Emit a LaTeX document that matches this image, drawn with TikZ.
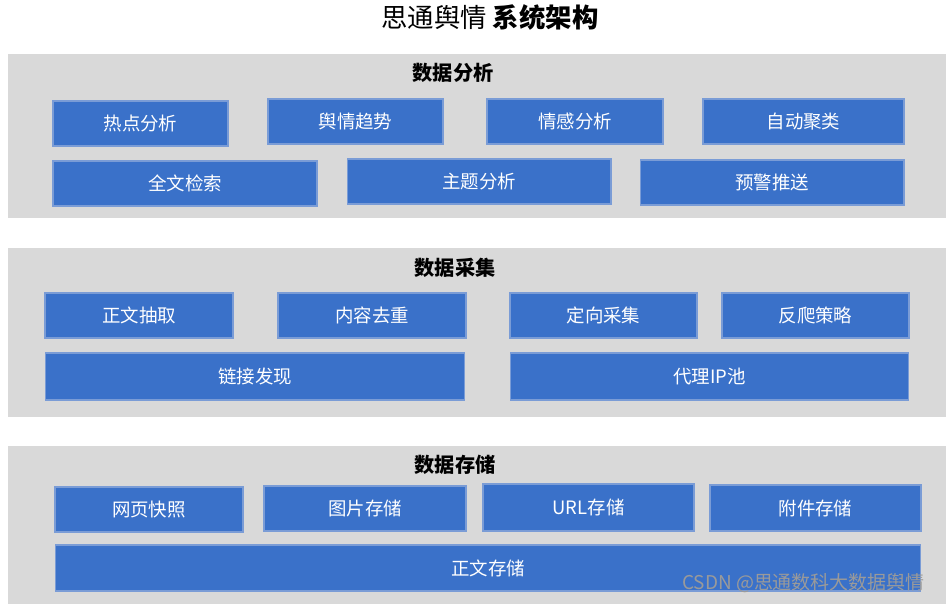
\documentclass[tikz,border=0pt]{standalone}
\usepackage{fontspec}
\usepackage{xcolor}
\newfontfamily\cjk{Noto Sans CJK SC}
\definecolor{panelgray}{HTML}{D9D9D9}
\definecolor{boxblue}{HTML}{3A71C9}
\definecolor{boxedge}{HTML}{7A9CD6}
\definecolor{markgray}{HTML}{9A9A9A}

\begin{document}
\begin{tikzpicture}[x=0.02cm, y=-0.02cm,
    panel/.style={rectangle, fill=panelgray, inner sep=0pt, minimum width=18.76cm},
    box/.style={rectangle, draw=boxedge, line width=0.6pt, fill=boxblue, text=white, inner sep=0pt, minimum height=0.9cm, font=\cjk\fontsize{10.5}{12}\selectfont},
    head/.style={font=\cjk\bfseries\fontsize{11.5}{13}\selectfont, text=black}]
          \useasboundingbox (0,0) rectangle (948,604);

          % Title
          \node[font=\cjk\fontsize{15}{17}\selectfont] (title) at (490,17) {思通舆情 \textbf{系统架构}};

          % Define panels
          \node[panel, minimum height=3.28cm] (analysis) at (477,136) {};
          \node[panel, minimum height=3.38cm] (collect) at (477,332.5) {};
          \node[panel, minimum height=3.16cm] (storage) at (477,525) {};

          \node[head] (analysisT) at (453,73) {数据分析};
          \node[head] (collectT) at (455,268) {数据采集};
          \node[head] (storageT) at (455,465) {数据存储};

          % Data analysis boxes
          \node[box, minimum width=3.50cm] (hot) at (140.5,123.5) {热点分析};
          \node[box, minimum width=3.50cm] (trend) at (355.5,121.5) {舆情趋势};
          \node[box, minimum width=3.52cm] (emotion) at (575,121.5) {情感分析};
          \node[box, minimum width=4.02cm] (cluster) at (803.5,121.5) {自动聚类};
          \node[box, minimum width=5.28cm] (search) at (185,183.5) {全文检索};
          \node[box, minimum width=5.28cm] (topic) at (479,181.5) {主题分析};
          \node[box, minimum width=5.28cm] (alert) at (772,182.5) {预警推送};

          % Data collection boxes
          \node[box, minimum width=3.76cm] (extract) at (139,315.5) {正文抽取};
          \node[box, minimum width=3.76cm] (dedup) at (372,315.5) {内容去重};
          \node[box, minimum width=3.74cm] (target) at (603.5,315.5) {定向采集};
          \node[box, minimum width=3.74cm] (anticrawl) at (815.5,315.5) {反爬策略};
          \node[box, minimum width=8.40cm, minimum height=0.94cm] (links) at (255,376.5) {链接发现};
          \node[box, minimum width=7.98cm, minimum height=0.94cm] (proxy) at (709.5,376.5) {代理IP池};

          % Data storage boxes
          \node[box, minimum width=3.76cm] (snapshot) at (149,509.5) {网页快照};
          \node[box, minimum width=4.04cm] (image) at (365,508.5) {图片存储};
          \node[box, minimum width=4.22cm, minimum height=0.94cm] (url) at (588.5,507.5) {URL存储};
          \node[box, minimum width=4.22cm, minimum height=0.92cm] (attach) at (815.5,508) {附件存储};
          \node[box, minimum width=17.32cm, minimum height=0.92cm] (text) at (488,568) {正文存储};

          % Watermark
          \node[font=\cjk\fontsize{10.8}{12}\selectfont, text=markgray, anchor=east] (mark) at (931,583) {CSDN @思通数科大数据舆情};
        \end{tikzpicture}
\end{document}
